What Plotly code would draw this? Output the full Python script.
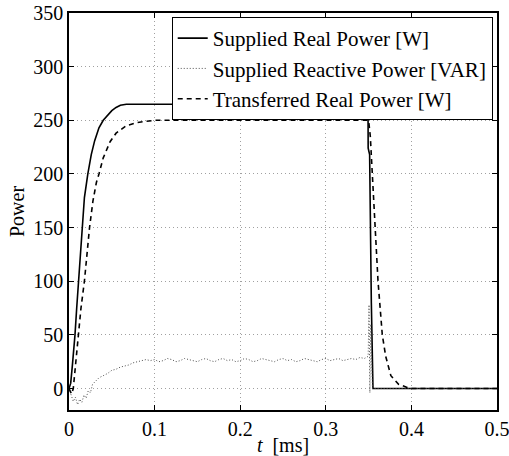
import plotly.graph_objects as go

# ---- data (t in ms) ----
t_real = [0, 0.002, 0.004, 0.006, 0.007, 0.009, 0.011, 0.013, 0.015, 0.018, 0.022, 0.026,
          0.030, 0.035, 0.040, 0.045, 0.050, 0.055, 0.060, 0.067, 0.075, 0.10, 0.20, 0.30,
          0.3493, 0.3495, 0.3512, 0.3532, 0.3551, 0.40, 0.50]
p_real = [0, 5, 22, 40, 50, 75, 100, 125, 150, 178, 200, 218,
          231, 243, 250, 255, 259, 262, 264, 265, 265, 265, 265, 265,
          265, 224, 218, 80, 0, 0, 0]

t_trans = [0, 0.003, 0.005, 0.008, 0.011, 0.014, 0.018, 0.021, 0.024, 0.028, 0.032, 0.035,
           0.040, 0.048, 0.055, 0.067, 0.080, 0.10, 0.20, 0.30, 0.350, 0.352, 0.3543,
           0.358, 0.361, 0.366, 0.370, 0.376, 0.385, 0.395, 0.400, 0.50]
p_trans = [0, -5, 0, 25, 50, 75, 100, 125, 150, 175, 192, 200,
           215, 230, 238, 245, 248, 250, 250, 250, 250, 235, 200,
           150, 100, 50, 30, 12, 4, 1, 0, 0]

t_react = [0, 0.0025, 0.005, 0.0075, 0.010, 0.0125, 0.015, 0.0175, 0.020, 0.0225, 0.025, 0.0275,
           0.030, 0.035, 0.040, 0.045, 0.050, 0.055, 0.060, 0.065, 0.070, 0.075, 0.080, 0.085,
           0.090, 0.095, 0.100, 0.105, 0.110, 0.115, 0.120, 0.125, 0.130, 0.135, 0.140, 0.145,
           0.150, 0.155, 0.160, 0.165, 0.170, 0.175, 0.180, 0.185, 0.190, 0.195, 0.200, 0.205,
           0.210, 0.215, 0.220, 0.225, 0.230, 0.235, 0.240, 0.245, 0.250, 0.255, 0.260, 0.265,
           0.270, 0.275, 0.280, 0.285, 0.290, 0.295, 0.300, 0.305, 0.310, 0.315, 0.320, 0.325,
           0.330, 0.335, 0.340, 0.345, 0.3495, 0.3505, 0.3515, 0.3525, 0.3545, 0.40, 0.50]
q_react = [0, -6, -12, -8, -15, -10, -13, -6, -9, -2, -4, 4,
           6, 10, 12, 14, 17, 18, 20, 21, 22, 24, 25, 26,
           27, 26, 27, 25, 26, 28, 27, 25, 26, 28, 27, 26,
           25, 27, 28, 26, 25, 27, 28, 26, 27, 25, 26, 28,
           27, 25, 26, 28, 27, 26, 25, 27, 28, 26, 27, 25,
           26, 28, 27, 26, 25, 27, 28, 26, 27, 28, 26, 27,
           28, 27, 29, 28, 30, 78, -4, 60, 0, 0, 0]

x_ticks = [0, 0.1, 0.2, 0.3, 0.4, 0.5]
x_tick_labels = ["0", "0.1", "0.2", "0.3", "0.4", "0.5"]
y_ticks = [0, 50, 100, 150, 200, 250, 300, 350]

fig = go.Figure()
fig.add_trace(go.Scatter(x=t_real, y=p_real, mode="lines", name="Supplied Real Power [W]",
                         line=dict(color="black", width=1.6)))
fig.add_trace(go.Scatter(x=t_react, y=q_react, mode="lines", name="Supplied Reactive Power [VAR]",
                         line=dict(color="#505050", width=1, dash="1px,2px")))
fig.add_trace(go.Scatter(x=t_trans, y=p_trans, mode="lines", name="Transferred Real Power [W]",
                         line=dict(color="black", width=1.6, dash="5px,4px")))

font = "Liberation Serif"
axis_common = dict(showline=True, linecolor="black", linewidth=1.5, mirror="ticks",
                   ticks="inside", ticklen=5, tickcolor="black", automargin=False,
                   ticklabeloverflow="allow",
                   showgrid=True, gridcolor="#a0a0a0", griddash="1px,3px", gridwidth=1,
                   zeroline=False, tickfont=dict(size=20, color="black", family=font))

fig.update_layout(
    width=509, height=456,
    margin=dict(l=69, r=12, t=13, b=46),
    paper_bgcolor="white", plot_bgcolor="white",
    font=dict(family=font, size=20, color="black"),
    showlegend=True,
    legend=dict(x=0.99, y=0.99, xanchor="right", yanchor="top",
                bgcolor="white", bordercolor="black", borderwidth=1,
                font=dict(size=21, family=font, color="black"),
                itemwidth=30, tracegroupgap=0),
    xaxis=dict(range=[0, 0.5], tickvals=x_ticks, ticktext=x_tick_labels,
               title=dict(text="<i>t</i>  [ms]", standoff=0, font=dict(size=20, family=font)), **axis_common),
    yaxis=dict(range=[-20, 350], tickvals=y_ticks,
               title=dict(text="Power", standoff=3, font=dict(size=20, family=font)), **axis_common),
)

fig.write_html("out.html")
